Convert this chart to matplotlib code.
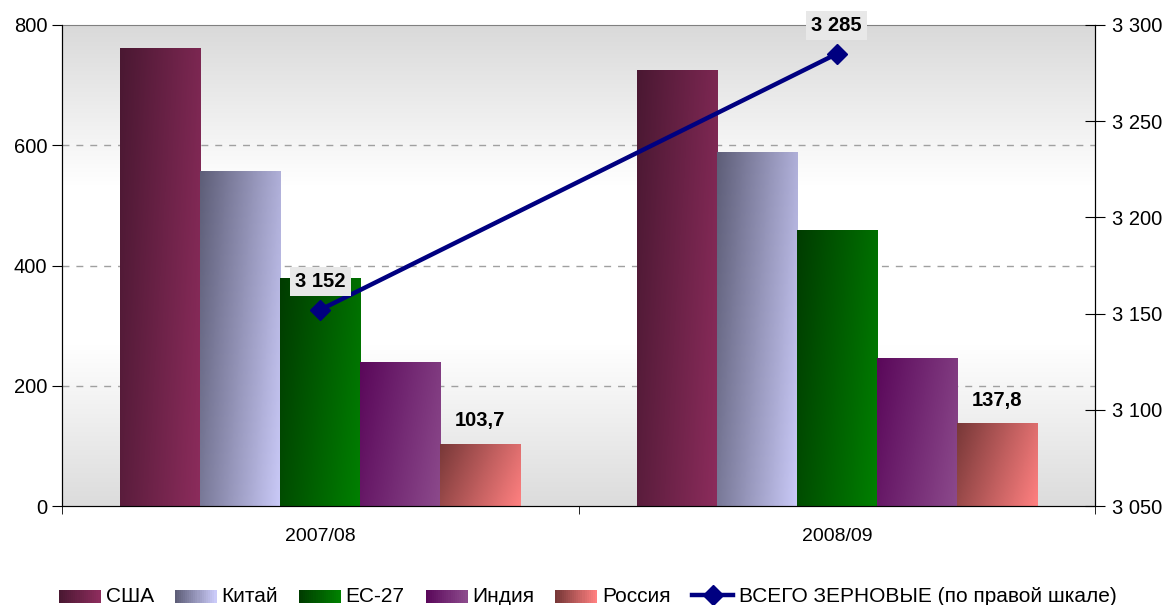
import numpy as np
import matplotlib
matplotlib.use("Agg")
import matplotlib.pyplot as plt
from matplotlib.colors import LinearSegmentedColormap
from matplotlib.patches import Rectangle
from matplotlib.legend_handler import HandlerBase
from matplotlib.lines import Line2D
from matplotlib.ticker import FuncFormatter, FixedLocator

plt.rcParams['font.family'] = ['Liberation Sans', 'DejaVu Sans']

# Данные
periods = ["2007/08", "2008/09"]
countries = ["США", "Китай", "ЕС-27", "Индия", "Россия"]
usa = [762, 725]
china = [557, 589]
eu = [379, 459]
india = [240, 246]
russia = [103.7, 137.8]
total = [3152, 3285]
total_label = "ВСЕГО ЗЕРНОВЫЕ (по правой шкале)"

series = [usa, china, eu, india, russia]
# цвета градиента: (тёмный, светлый)
grad = [("#4a1832", "#8c2c5c"),
        ("#5e5e78", "#cacaf8"),
        ("#003c00", "#008000"),
        ("#5a085a", "#8c4a8c"),
        ("#783838", "#ff8080")]

fig = plt.figure(figsize=(11.68, 6.05), dpi=100)
ax = fig.add_axes([0.0531, 0.1636, 0.8844, 0.7951])
ax2 = ax.twinx()

# фон области построения: серый - белый - серый
bg = LinearSegmentedColormap.from_list("bg", ["#d9d9d9", "#ffffff", "#ffffff", "#dcdcdc"])
ax.imshow(np.linspace(0, 1, 256).reshape(-1, 1), cmap=bg, aspect='auto',
          extent=[0, 1, 0, 1], transform=ax.transAxes, zorder=0)

x = np.arange(len(periods))
w = 0.155
ax.set_xlim(-0.5, 1.5)
ax.set_ylim(0, 800)

yy, xx = np.mgrid[0:1:64j, 0:1:64j]
diag = np.clip(0.75 * xx + 0.25 * yy, 0, 1)  # тёмный слева вверху
for i, vals in enumerate(series):
    cmap = LinearSegmentedColormap.from_list("g%d" % i, grad[i])
    bars = ax.bar(x + (i - 2) * w, vals, w, color='none', zorder=2)
    for b in bars:
        bx, by = b.get_x(), b.get_height()
        im = ax.imshow(diag, cmap=cmap, aspect='auto', origin='upper',
                       extent=[bx, bx + w, 0, by], zorder=2)
        im.set_clip_path(b)

# подписи для России
for xi, v in zip(x, russia):
    ax.text(xi + 2 * w, v + 22, f"{v:.1f}".replace(".", ","), ha='center', va='bottom',
            fontsize=14.5, fontweight='bold', zorder=5)

ax.set_xlim(-0.5, 1.5)
ax.set_ylim(0, 800)

for g in [200, 400, 600]:
    ax.axhline(g, color='#a0a0a0', linestyle=(0, (5, 5)), linewidth=1, zorder=1)

ax.set_yticks([0, 200, 400, 600, 800])
ax.tick_params(axis='y', labelsize=14.5, length=7, direction='out')
ax.set_xticks(x)
ax.set_xticklabels(periods, fontsize=14)
ax.tick_params(axis='x', length=0, pad=16)
ax.xaxis.set_minor_locator(FixedLocator([-0.5, 0.5, 1.5]))
ax.tick_params(axis='x', which='minor', length=6, direction='out')

ax.spines['top'].set_color('#808080')
ax.spines['left'].set_color('black')
ax.spines['bottom'].set_color('#404040')

# линия "всего"
ax2.plot(x, total, color='#000080', linewidth=3.2, marker='D', markersize=10.5, zorder=4)
ax2.set_ylim(3050, 3300)
ax2.set_yticks([3050, 3100, 3150, 3200, 3250, 3300])
ax2.yaxis.set_major_formatter(FuncFormatter(lambda v, p: f"{int(v):,}".replace(",", " ")))
ax2.tick_params(axis='y', labelsize=14.5, length=14, direction='inout', pad=5)
ax2.spines['top'].set_visible(False)
for xi, v in zip(x, total):
    ax2.annotate(f"{v:,}".replace(",", " "), (xi, v), xytext=(0, 20.5), textcoords='offset points',
                 ha='center', va='center', fontsize=14.5, fontweight='bold',
                 bbox=dict(boxstyle='square,pad=0.25', fc='#e8e8e8', ec='none'), zorder=6)


# градиентные маркеры легенды
class GradHandler(HandlerBase):
    def __init__(self, c1, c2):
        super().__init__()
        self.c1, self.c2 = c1, c2

    def create_artists(self, legend, orig, xd, yd, width, height, fontsize, trans):
        cmap = LinearSegmentedColormap.from_list("h", [self.c1, self.c2])
        n = 20
        arts = []
        for k in range(n):
            r = Rectangle((xd + width * k / n, yd), width / n + 0.3, height,
                          facecolor=cmap(k / (n - 1)), edgecolor='none', transform=trans)
            arts.append(r)
        return arts


handles = [Rectangle((0, 0), 1, 1) for _ in countries]
hmap = {h: GradHandler(*grad[i]) for i, h in enumerate(handles)}
line_h = Line2D([], [], color='#000080', linewidth=3.2, marker='D', markersize=10)
handles.append(line_h)
labels = countries + [total_label]
fig.legend(handles, labels, handler_map=hmap, loc='center', bbox_to_anchor=(0.503, 0.014),
           ncol=6, frameon=False, fontsize=15, handlelength=2.0, handleheight=0.6,
           handletextpad=0.25, columnspacing=1.0)

fig.savefig("out.png", dpi=100)
